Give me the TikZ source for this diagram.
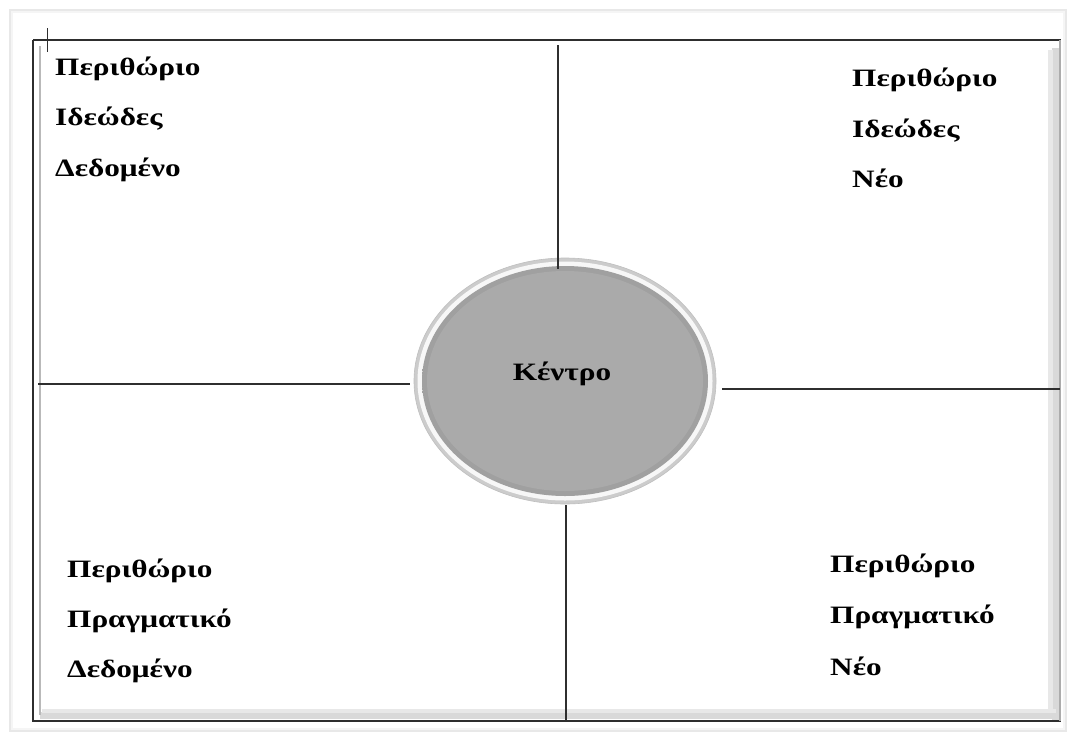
\documentclass[tikz,border=0pt]{standalone}
\usepackage{fontspec}
\setmainfont[FakeStretch=1.25]{Liberation Serif}
\usetikzlibrary{shapes.geometric}
\definecolor{frameline}{HTML}{2E2E2E}
\definecolor{divline}{HTML}{2F2F2F}
\definecolor{discfill}{HTML}{AAAAAA}
\definecolor{discedge}{HTML}{A0A0A0}
\tikzset{
  divider/.style={draw=divline, line width=2.6pt},
  label/.style={anchor=base west, inner sep=0pt, font=\fontsize{25}{29}\selectfont\bfseries, text=black},
}
\begin{document}
\begin{tikzpicture}[x=1pt, y=-1pt]
\useasboundingbox (0,0) rectangle (1071,737);
\fill[white] (0,0) rectangle (1071,737);

% page sheet with soft edge
\draw[gray!18, line width=1.2pt] (10,10) rectangle (1066,731);
\draw[gray!8, line width=2pt] (12,12) rectangle (1064,729);

% text box: shadow bands along right and bottom
\fill[gray!30] (1052,48) rectangle (1060,721);
\fill[gray!18] (1048,50) rectangle (1053,716);
\fill[gray!30] (40,712) rectangle (1060,719);
\fill[gray!18] (42,709) rectangle (1056,713);
% text box frame
\draw[frameline, line width=1.8pt] (33,40) -- (1061,40);
\draw[frameline, line width=1.8pt] (33,40) -- (33,721) -- (1061,721);
\draw[gray!65, line width=1.4pt] (1060,40) -- (1060,721);
\draw[gray!55, line width=1.2pt] (40,46) -- (40,715);
% corner crop mark
\draw[frameline, line width=1pt] (47,28) -- (47,52);
\draw[frameline, line width=1pt] (40,40) -- (56,40);

% central disc
\node[ellipse, minimum width=302pt, minimum height=246pt, inner sep=0pt,
      fill=gray!40, draw=gray!50, line width=0.6pt] (c) at (565,381) {};
\fill[white!94!gray] (c.center) ellipse [x radius=147.5, y radius=119.5];
\shade[inner color=discfill, outer color=discedge] (c.center) ellipse [x radius=143, y radius=115];
\fill[discfill] (c.center) ellipse [x radius=138, y radius=110];
\node[label, anchor=base] (centre) at (562,380) {Κέντρο};

% quadrant dividers
\coordinate (topA) at (558,45);
\coordinate (topB) at (558,269);
\coordinate (leftA) at (38,384);
\coordinate (leftB) at (410,384);
\coordinate (rightA) at (722,389);
\coordinate (rightB) at (1060,389);
\coordinate (botA) at (566,505);
\coordinate (botB) at (566,721);
\draw[divider] (topA) -- (topB);
\draw[divider] (leftA) -- (leftB);
\draw[divider] (rightA) -- (rightB);
\draw[divider] (botA) -- (botB);

% top-left quadrant
\node[label] (tl1) at (55,75) {Περιθώριο};
\node[label] (tl2) at (55,125) {Ιδεώδες};
\node[label] (tl3) at (55,176) {Δεδομένο};
% top-right quadrant
\node[label] (tr1) at (852,86) {Περιθώριο};
\node[label] (tr2) at (852,137) {Ιδεώδες};
\node[label] (tr3) at (852,187) {Νέο};
% bottom-left quadrant
\node[label] (bl1) at (67,577) {Περιθώριο};
\node[label] (bl2) at (67,627) {Πραγματικό};
\node[label] (bl3) at (67,677) {Δεδομένο};
% bottom-right quadrant
\node[label] (br1) at (830,572) {Περιθώριο};
\node[label] (br2) at (830,623) {Πραγματικό};
\node[label] (br3) at (830,675) {Νέο};
\end{tikzpicture}
\end{document}
